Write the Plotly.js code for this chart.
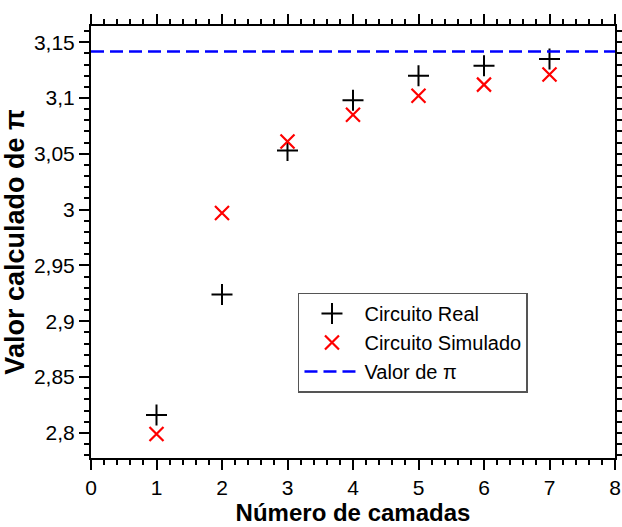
<!DOCTYPE html>
<html>
<head>
<meta charset="utf-8">
<script src="https://cdn.plot.ly/plotly-3.0.1.min.js"></script>
<style>html,body{margin:0;padding:0;background:#fff;}#chart{width:622px;height:527px;}</style>
</head>
<body>
<div id="chart"></div>
<script>
const camadas = [1, 2, 3, 4, 5, 6, 7];
const circuitoReal = [2.816, 2.924, 3.053, 3.098, 3.120, 3.129, 3.135];
const circuitoSimulado = [2.799, 2.997, 3.061, 3.085, 3.102, 3.112, 3.121];
const piX = [0, 8];
const piY = [Math.PI, Math.PI];
const seriesNames = ['Circuito Real', 'Circuito Simulado', 'Valor de π'];

const FONT = 'Liberation Sans, Arial, sans-serif';

const traces = [
  {
    x: camadas, y: circuitoReal, name: seriesNames[0], type: 'scatter', mode: 'markers',
    marker: {symbol: 'cross-thin', size: 15, color: '#000', line: {color: '#000', width: 2}}
  },
  {
    x: camadas, y: circuitoSimulado, name: seriesNames[1], type: 'scatter', mode: 'markers',
    marker: {symbol: 'x-thin', size: 14, color: '#ff0000', line: {color: '#ff0000', width: 2.2}}
  },
  {
    x: piX, y: piY, name: seriesNames[2], type: 'scatter', mode: 'lines',
    line: {color: '#0000ff', width: 2.5, dash: '13px,6px'}
  }
];

const axisCommon = {
  showgrid: false, zeroline: false, showline: true, linecolor: '#000', linewidth: 2,
  mirror: 'ticks', ticks: 'outside', ticklen: 10, tickwidth: 2, tickcolor: '#000',
  tickfont: {family: FONT, size: 21, color: '#000'}
};

const layout = {
  width: 622, height: 527,
  margin: {l: 91, r: 7, t: 26, b: 69},
  paper_bgcolor: '#fff', plot_bgcolor: '#fff',
  separators: ',.',
  showlegend: true,
  font: {family: FONT, color: '#000'},
  xaxis: Object.assign({}, axisCommon, {
    range: [0, 8], tickmode: 'linear', tick0: 0, dtick: 1,
    minor: {dtick: 0.2, ticklen: 5, tickwidth: 2, tickcolor: '#000', ticks: 'outside'},
    title: {text: 'Número de camadas', font: {family: FONT, size: 24, color: '#000', weight: 'bold'}, standoff: 4}
  }),
  yaxis: Object.assign({}, axisCommon, {
    range: [2.7775, 3.1645], tickmode: 'linear', tick0: 2.8, dtick: 0.05,
    minor: {dtick: 0.01, ticklen: 5, tickwidth: 2, tickcolor: '#000', ticks: 'outside'},
    title: {text: 'Valor calculado de π', font: {family: FONT, size: 27, color: '#000', weight: 'bold'}, standoff: 8}
  }),
  legend: {
    x: 0.395, y: 0.383, xanchor: 'left', yanchor: 'top',
    bgcolor: '#fff', bordercolor: '#555', borderwidth: 1.5,
    font: {family: FONT, size: 20, color: '#000'},
    itemwidth: 55, tracegroupgap: 0
  }
};

Plotly.newPlot('chart', traces, layout, {displayModeBar: false, staticPlot: true});
</script>
</body>
</html>
